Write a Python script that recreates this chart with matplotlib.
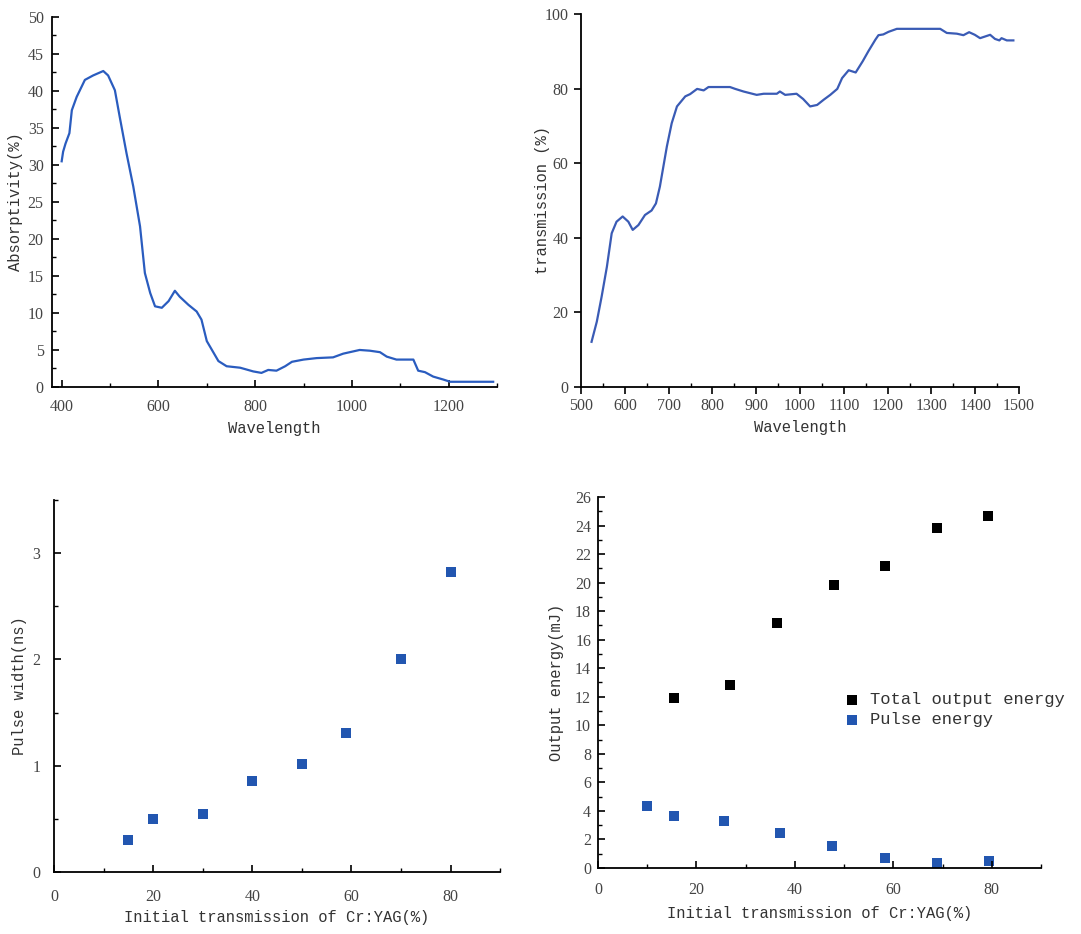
import numpy as np
import matplotlib.pyplot as plt
from matplotlib.ticker import MultipleLocator

# absorptivity spectrum (top left)
abs_wl = [400, 403, 408, 416, 421, 431, 448, 465, 486, 496, 510, 520, 534, 548, 562,
          572, 583, 593, 607, 621, 634, 644, 662, 679, 689, 700, 724, 741, 769, 796,
          813, 827, 844, 862, 876, 900, 927, 961, 982, 1016, 1037, 1058, 1072, 1092,
          1127, 1137, 1151, 1168, 1189, 1203, 1292]
abs_val = [30.5, 31.8, 32.9, 34.3, 37.4, 39.2, 41.5, 42.1, 42.7, 42.1, 40.1, 36.5, 31.6,
           27.1, 21.7, 15.4, 12.7, 10.9, 10.7, 11.6, 13.0, 12.2, 11.1, 10.2, 9.1, 6.2,
           3.5, 2.8, 2.6, 2.1, 1.9, 2.3, 2.2, 2.8, 3.4, 3.7, 3.9, 4.0, 4.5, 5.0, 4.9,
           4.7, 4.1, 3.7, 3.7, 2.2, 2.0, 1.4, 1.0, 0.7, 0.7]

# transmission spectrum (top right)
tr_wl = [524, 536, 547, 559, 570, 581, 595, 608, 618, 631, 646, 661, 671, 680, 688, 696,
         707, 719, 738, 749, 765, 780, 791, 840, 852, 871, 901, 917, 947, 954, 966, 992,
         1007, 1023, 1039, 1054, 1069, 1085, 1096, 1111, 1127, 1143, 1156, 1172, 1179,
         1190, 1202, 1221, 1320, 1335, 1358, 1373, 1386, 1399, 1411, 1434, 1445, 1455,
         1460, 1472, 1487]
tr_val = [12.1, 17.5, 24.2, 32.2, 41.2, 44.3, 45.7, 44.3, 42.1, 43.4, 46.1, 47.3, 49.2,
          53.7, 59.1, 64.5, 70.7, 75.2, 77.9, 78.5, 79.9, 79.5, 80.4, 80.4, 79.9, 79.2,
          78.3, 78.6, 78.6, 79.2, 78.3, 78.6, 77.2, 75.2, 75.6, 77.0, 78.3, 79.9, 82.8,
          84.9, 84.3, 87.3, 90.0, 93.1, 94.3, 94.5, 95.2, 96.0, 96.0, 94.9, 94.7, 94.3,
          95.1, 94.4, 93.5, 94.4, 93.3, 92.9, 93.5, 92.9, 92.9]

# pulse width (bottom left)
pw_t = [15, 20, 30, 40, 50, 59, 70, 80]
pw_ns = [0.30, 0.50, 0.55, 0.86, 1.02, 1.31, 2.00, 2.82]

# output energy (bottom right)
tot_t = [15.4, 26.8, 36.3, 48.0, 58.4, 68.8, 79.3]
tot_e = [11.94, 12.80, 17.20, 19.85, 21.18, 23.82, 24.64]
pe_t = [10.0, 15.4, 25.6, 37.0, 47.6, 58.4, 68.8, 79.5]
pe_e = [4.33, 3.63, 3.28, 2.46, 1.52, 0.73, 0.35, 0.51]

mono = ['Liberation Mono', 'DejaVu Sans Mono']
label_font = {'family': mono, 'size': 11.2, 'color': '#333333'}
plt.rcParams['font.family'] = ['Liberation Serif', 'DejaVu Serif']

fig = plt.figure(figsize=(10.81, 9.34), dpi=100)


def style(ax, xpad=4, ypad=4):
    for s in ['top', 'right']:
        ax.spines[s].set_visible(False)
    ax.spines['left'].set_linewidth(1.3)
    ax.spines['bottom'].set_linewidth(1.3)
    ax.tick_params(which='major', direction='in', length=5, width=1.2,
                   labelsize=11.5, labelcolor='#444444')
    ax.tick_params(which='minor', direction='in', length=3, width=1.0)
    ax.tick_params(axis='x', which='major', pad=xpad)
    ax.tick_params(axis='y', which='major', pad=ypad)


ax1 = fig.add_axes([0.0481, 0.5857, 0.4117, 0.3961])
ax1.plot(abs_wl, abs_val, color='#2a5cbf', lw=1.6)
ax1.set_xlim(380, 1300)
ax1.set_ylim(0, 50)
ax1.xaxis.set_major_locator(MultipleLocator(200))
ax1.xaxis.set_minor_locator(MultipleLocator(100))
ax1.yaxis.set_major_locator(MultipleLocator(5))
ax1.yaxis.set_minor_locator(MultipleLocator(2.5))
ax1.set_xlabel('Wavelength', fontdict=label_font, labelpad=4)
ax1.set_ylabel('Absorptivity(%)', fontdict=label_font, labelpad=3)
style(ax1, xpad=9, ypad=6)

ax2 = fig.add_axes([0.5375, 0.5857, 0.4052, 0.3994])
ax2.plot(tr_wl, tr_val, color='#3a5bb5', lw=1.6)
ax2.set_xlim(500, 1500)
ax2.set_ylim(0, 100)
ax2.xaxis.set_major_locator(MultipleLocator(100))
ax2.xaxis.set_minor_locator(MultipleLocator(50))
ax2.yaxis.set_major_locator(MultipleLocator(20))
ax2.set_xlabel('Wavelength', fontdict=label_font, labelpad=4)
ax2.set_ylabel('transmission (%)', fontdict=label_font, labelpad=-4)
style(ax2, xpad=3, ypad=4)
ax2.tick_params(which='major', direction='out')

ax3 = fig.add_axes([0.05, 0.0664, 0.4126, 0.3983])
ax3.scatter(pw_t, pw_ns, marker='s', s=52, color='#2256b0', edgecolors='none')
ax3.set_xlim(0, 90)
ax3.set_ylim(0, 3.5)
ax3.xaxis.set_major_locator(MultipleLocator(20))
ax3.xaxis.set_minor_locator(MultipleLocator(10))
ax3.yaxis.set_major_locator(MultipleLocator(1))
ax3.yaxis.set_minor_locator(MultipleLocator(0.5))
ax3.set_xlabel('Initial transmission of Cr:YAG(%)', fontdict=label_font, labelpad=4)
ax3.set_ylabel('Pulse width(ns)', fontdict=label_font, labelpad=4)
style(ax3, xpad=12, ypad=10)

ax4 = fig.add_axes([0.5532, 0.0707, 0.4098, 0.3972])
ax4.scatter(tot_t, tot_e, marker='s', s=52, color='black', edgecolors='none',
            label='Total output energy')
ax4.scatter(pe_t, pe_e, marker='s', s=52, color='#2256b0', edgecolors='none',
            label='Pulse energy')
ax4.set_xlim(0, 90)
ax4.set_ylim(0, 26)
ax4.xaxis.set_major_locator(MultipleLocator(20))
ax4.xaxis.set_minor_locator(MultipleLocator(10))
ax4.yaxis.set_major_locator(MultipleLocator(2))
ax4.yaxis.set_minor_locator(MultipleLocator(1))
ax4.set_xlabel('Initial transmission of Cr:YAG(%)', fontdict=label_font, labelpad=6)
ax4.set_ylabel('Output energy(mJ)', fontdict=label_font, labelpad=8)
style(ax4, xpad=10, ypad=5)
ax4.legend(loc='center left', bbox_to_anchor=(0.535, 0.426), frameon=False,
           prop={'family': mono, 'size': 12.3}, borderpad=0, handlelength=1.0,
           handletextpad=0.55, labelspacing=0.3, labelcolor='#333333')

fig.savefig('out.png', dpi=100)
